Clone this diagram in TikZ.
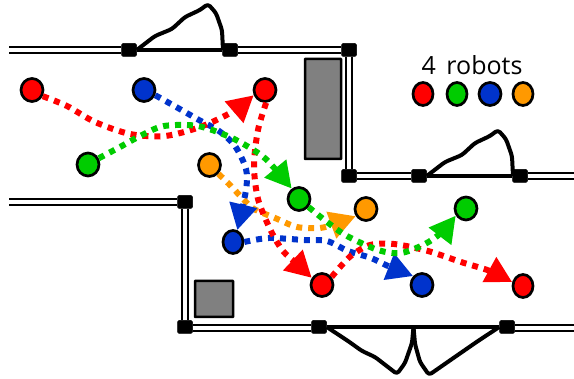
\documentclass[tikz,border=0pt]{standalone}
\usepackage{fontspec}
\setmainfont{Open Sans}
\usetikzlibrary{arrows.meta,shapes.geometric}
\definecolor{rred}{HTML}{FF0000}
\definecolor{rgreen}{HTML}{00CC00}
\definecolor{rblue}{HTML}{0033CC}
\definecolor{rorange}{HTML}{FF9900}
\tikzset{
  robot/.style = {draw, ellipse, line width=2.7pt, inner sep=0pt, minimum width=22pt, minimum height=23pt},
  slim/.style = {minimum width=20pt},
  post/.style = {fill=black, draw, rounded corners=1.5pt, line width=0.5pt, inner sep=0pt, minimum width=15pt, minimum height=13pt},
  wall/.style = {double=white, double distance=4pt, line width=2.2pt},
  door/.style = {line width=4pt, line join=round, rounded corners=3pt},
  block/.style = {draw, fill=gray, line width=2.5pt, rounded corners=0.5pt, inner sep=0pt},
  route/.style = {line width=6pt, dash pattern=on 6pt off 6pt, -{Triangle[length=26pt,width=27pt]}}
}
\begin{document}
\begin{tikzpicture}[x=1pt, y=-1pt]
\useasboundingbox (0,0) rectangle (574,379);
% wall posts
\node[post] (p1) at (129,50) {};
\node[post] (p2) at (230,50) {};
\node[post] (p3) at (349,50) {};
\node[post] (p4) at (349,176) {};
\node[post] (p5) at (419,176) {};
\node[post] (p6) at (520,176) {};
\node[post] (p7) at (185,202) {};
\node[post] (p8) at (185,327) {};
\node[post] (p9) at (319,327) {};
\node[post] (p10) at (507,327) {};
\coordinate (e1) at (9,50);
\coordinate (e2) at (574,176);
\coordinate (e3) at (9,202);
\coordinate (e4) at (574,328);
\coordinate (m1) at (413.5,327);
% walls
\draw[wall] (e1) -- (p1.west);
\draw[wall] (p2.east) -- (p3.west);
\draw[wall] (p3.south) -- (p4.north);
\draw[wall] (p4.east) -- (p5.west);
\draw[wall] (p6.east) -- (e2);
\draw[wall] (e3) -- (p7.west);
\draw[wall] (p7.south) -- (p8.north);
\draw[wall] (p8.east |- e4) -- (p9.west |- e4);
\draw[wall] (p10.east |- e4) -- (e4);
% doors
\draw[line width=4pt] (p1.east) -- (p2.west);
\draw[door] (p1.east) -- (155,36) -- (172,29) -- (185,17) -- (200,10) -- (208,4) -- (216,13) -- (222,30) -- (223,50);
\draw[line width=4pt] (p5.east) -- (p6.west);
\draw[door] (p5.east) -- (445,162) -- (462,155) -- (475,143) -- (490,136) -- (498,130) -- (506,139) -- (512,156) -- (513,176);
\draw[line width=4pt] (p9.east) -- (p10.west);
\draw[door] (p9.east) -- (348,341) -- (362,351) -- (375,357) -- (397,374) -- (405,363) -- (412,343) -- (m1);
\draw[door] (m1) -- (415,344) -- (420,362) -- (429,375) -- (452,359) -- (478,341) -- (p10.west);
% obstacles
\node[block, minimum width=36pt, minimum height=100pt] (b1) at (323,109) {};
\node[block, minimum width=38pt, minimum height=36pt] (b2) at (214,299) {};
% robots
\node[robot, fill=rred] (r1) at (32,90) {};
\node[robot, fill=rblue] (r2) at (144,90) {};
\node[robot, fill=rred] (r3) at (265,90) {};
\node[robot, fill=rgreen] (r4) at (88,164.500) {};
\node[robot, fill=rorange] (r5) at (209.500,165) {};
\node[robot, fill=rgreen] (r6) at (299,199) {};
\node[robot, fill=rorange] (r7) at (366,209) {};
\node[robot, fill=rgreen] (r8) at (466,208.500) {};
\node[robot, slim, fill=rblue] (r9) at (233,242) {};
\node[robot, fill=rred] (r10) at (322,285) {};
\node[robot, fill=rblue] (r11) at (422,285) {};
\node[robot, slim, fill=rred] (r12) at (523,286) {};
% legend
\node (title) at (472,65) {\fontsize{25}{25}\selectfont 4\, robots};
\node[robot, slim, fill=rred] (l1) at (423,94) {};
\node[robot, slim, fill=rgreen] (l2) at (457,94) {};
\node[robot, fill=rblue] (l3) at (490,94) {};
\node[robot, slim, fill=rorange] (l4) at (523,94) {};
% routes
\draw[route, rorange] plot[smooth] coordinates {(r5.-45) (229,184) (245,201) (254,209) (275,218) (297,227) (320,228) (334,224) (r7.215)};
\draw[route, rblue] plot[smooth] coordinates {(r2.-25) (178,108) (199,120) (219,131) (235,146) (246,169) (246,190) (r9.70)};
\draw[route, rblue] plot[smooth] coordinates {(r9.east) (269,238) (304,240) (327,241) (348,251) (371,258) (388,266) (r11.135)};
\draw[route, rred] plot[smooth] coordinates {(r1.-30) (67,106) (95,122) (130,134) (165,136) (200,127) (232,112) (r3.205)};
\draw[route, rred] plot[smooth] coordinates {(r3.-85) (258,130) (254,165) (258,199) (271,231) (283,251) (296,263) (r10.145)};
\draw[route, rred] plot[smooth] coordinates {(r10.40) (341,266) (352,255) (370,245) (394,244) (428,251) (461,262) (490,271) (r12.160)};
\draw[route, rgreen] plot[smooth] coordinates {(r4.30) (120,147) (142,135) (164,126) (198,126) (232,138) (261,155) (276,170) (r6.125)};
\draw[route, rgreen] plot[smooth] coordinates {(r6.-40) (327,222) (347,236) (378,250) (401,253) (425,244) (442,232) (r8.215)};
\end{tikzpicture}
\end{document}
